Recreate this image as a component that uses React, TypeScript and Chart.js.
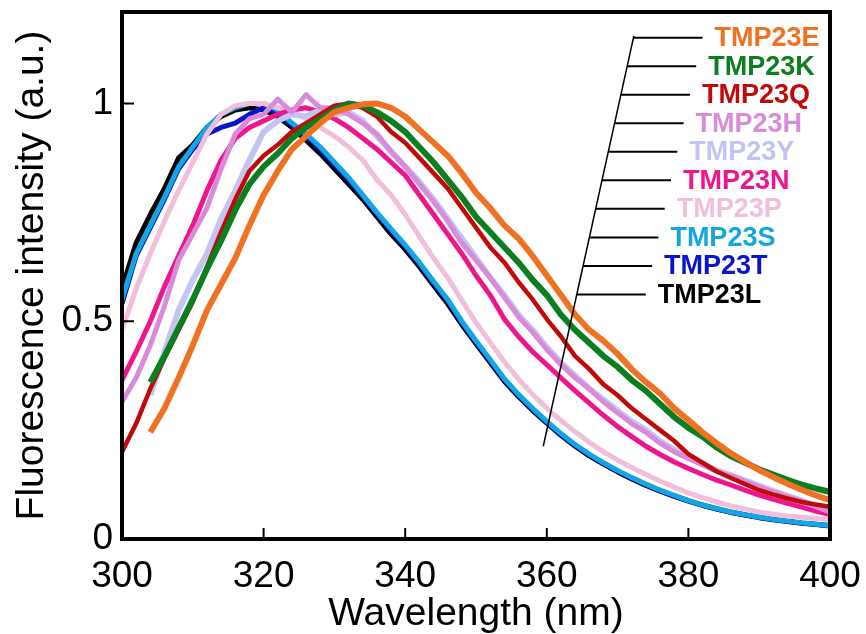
import React, { useEffect, useRef } from 'react';
import { Chart, registerables } from 'chart.js';

Chart.register(...registerables);

// Wavelength grid (nm)
const wavelengths = [
  300, 302, 304, 306, 308, 310, 312, 314, 316, 318,
  320, 322, 324, 326, 328, 330, 332, 334, 336, 338,
  340, 342, 344, 346, 348, 350, 352, 354, 356, 358,
  360, 362, 364, 366, 368, 370, 372, 374, 376, 378,
  380, 382, 384, 386, 388, 390, 392, 394, 396, 398, 400,
];

const tmp23E = [
  null, null, 0.245, 0.30, 0.37, 0.445, 0.525, 0.585, 0.645, 0.72,
  0.79, 0.845, 0.895, 0.925, 0.955, 0.98, 0.99, 0.998, 1.0, 0.99,
  0.97, 0.94, 0.91, 0.88, 0.84, 0.795, 0.76, 0.72, 0.69, 0.65,
  0.605, 0.56, 0.515, 0.48, 0.455, 0.425, 0.39, 0.36, 0.334, 0.30,
  0.273, 0.245, 0.22, 0.197, 0.177, 0.158, 0.142, 0.127, 0.113, 0.10, 0.089,
];
const tmp23K = [
  null, null, 0.36, 0.42, 0.485, 0.55, 0.62, 0.685, 0.755, 0.815,
  0.855, 0.885, 0.92, 0.945, 0.965, 0.985, 1.0, 0.995, 0.98, 0.96,
  0.935, 0.90, 0.865, 0.825, 0.785, 0.74, 0.705, 0.67, 0.635, 0.595,
  0.56, 0.515, 0.48, 0.45, 0.42, 0.395, 0.365, 0.34, 0.31, 0.28,
  0.255, 0.235, 0.21, 0.19, 0.175, 0.16, 0.148, 0.136, 0.125, 0.116, 0.108,
];
const tmp23Q = [
  0.20, 0.265, 0.345, 0.415, 0.48, 0.545, 0.625, 0.705, 0.78, 0.845,
  0.88, 0.905, 0.935, 0.955, 0.975, 0.995, 1.0, 0.99, 0.97, 0.935,
  0.91, 0.875, 0.84, 0.805, 0.76, 0.715, 0.67, 0.635, 0.59, 0.55,
  0.505, 0.465, 0.42, 0.39, 0.355, 0.33, 0.30, 0.275, 0.25, 0.225,
  0.195, 0.175, 0.155, 0.14, 0.126, 0.112, 0.102, 0.093, 0.085, 0.079, 0.074,
];
const tmp23H = [
  0.315, 0.37, 0.445, 0.535, 0.64, 0.70, 0.76, 0.85, 0.93, 0.965,
  0.975, 1.01, 0.98, 1.02, 0.99, 0.99, 0.975, 0.955, 0.93, 0.89,
  0.855, 0.815, 0.775, 0.73, 0.68, 0.64, 0.60, 0.555, 0.51, 0.475,
  0.435, 0.40, 0.37, 0.345, 0.315, 0.29, 0.265, 0.245, 0.22, 0.20,
  0.185, 0.17, 0.155, 0.145, 0.132, 0.12, 0.108, 0.097, 0.087, 0.075, 0.063,
];
const tmp23Y = [
  null, null, 0.33, 0.43, 0.525, 0.595, 0.655, 0.735, 0.80, 0.87,
  0.935, 0.96, 0.975, 0.97, 0.985, 0.975, 0.98, 0.96, 0.925, 0.89,
  0.855, 0.82, 0.78, 0.735, 0.69, 0.645, 0.60, 0.56, 0.515, 0.48,
  0.44, 0.405, 0.375, 0.345, 0.32, 0.295, 0.27, 0.25, 0.225, 0.205,
  0.19, 0.172, 0.158, 0.146, 0.134, 0.122, 0.11, 0.099, 0.088, 0.076, 0.064,
];
const tmp23N = [
  0.365, 0.43, 0.50, 0.58, 0.65, 0.72, 0.80, 0.87, 0.92, 0.945,
  0.96, 0.975, 0.985, 0.99, 0.98, 0.965, 0.945, 0.92, 0.895, 0.865,
  0.835, 0.79, 0.745, 0.70, 0.655, 0.605, 0.56, 0.505, 0.465, 0.43,
  0.40, 0.37, 0.34, 0.312, 0.284, 0.258, 0.235, 0.213, 0.194, 0.177,
  0.162, 0.148, 0.135, 0.124, 0.112, 0.101, 0.091, 0.082, 0.073, 0.064, 0.056,
];
const tmp23P = [
  0.48, 0.575, 0.655, 0.73, 0.80, 0.865, 0.93, 0.975, 0.995, 1.0,
  1.0, 0.99, 0.98, 0.965, 0.945, 0.925, 0.90, 0.87, 0.825, 0.79,
  0.745, 0.695, 0.645, 0.60, 0.548, 0.497, 0.452, 0.407, 0.367, 0.332,
  0.30, 0.272, 0.246, 0.222, 0.20, 0.181, 0.164, 0.148, 0.133, 0.119,
  0.106, 0.095, 0.085, 0.076, 0.069, 0.062, 0.057, 0.053, 0.05, 0.047, 0.045,
];
const tmp23S = [
  0.55, 0.655, 0.72, 0.785, 0.855, 0.90, 0.945, 0.975, 0.99, 1.0,
  1.0, 0.985, 0.955, 0.93, 0.90, 0.865, 0.83, 0.79, 0.75, 0.712,
  0.675, 0.635, 0.592, 0.55, 0.50, 0.455, 0.412, 0.368, 0.332, 0.30,
  0.27, 0.242, 0.217, 0.195, 0.175, 0.157, 0.141, 0.126, 0.112, 0.10,
  0.088, 0.078, 0.07, 0.062, 0.056, 0.05, 0.045, 0.041, 0.037, 0.034, 0.031,
];
const tmp23T = [
  0.54, 0.65, 0.715, 0.78, 0.85, 0.895, 0.93, 0.945, 0.955, 0.975,
  0.99, 0.98, 0.95, 0.925, 0.895, 0.86, 0.825, 0.787, 0.747, 0.708,
  0.672, 0.632, 0.589, 0.547, 0.497, 0.452, 0.409, 0.366, 0.33, 0.298,
  0.268, 0.24, 0.215, 0.193, 0.174, 0.156, 0.14, 0.125, 0.111, 0.099,
  0.088, 0.078, 0.069, 0.062, 0.055, 0.05, 0.045, 0.041, 0.037, 0.034, 0.031,
];
const tmp23L = [
  0.575, 0.68, 0.745, 0.805, 0.875, 0.905, 0.945, 0.97, 0.985, 0.99,
  0.985, 0.97, 0.945, 0.915, 0.885, 0.85, 0.815, 0.78, 0.74, 0.70,
  0.665, 0.625, 0.582, 0.54, 0.492, 0.448, 0.405, 0.362, 0.327, 0.295,
  0.266, 0.238, 0.213, 0.191, 0.172, 0.154, 0.138, 0.123, 0.11, 0.098,
  0.087, 0.077, 0.069, 0.061, 0.055, 0.049, 0.044, 0.04, 0.036, 0.033, 0.03,
];

// Legend order (top to bottom) and names
const seriesNames = ['TMP23E', 'TMP23K', 'TMP23Q', 'TMP23H', 'TMP23Y', 'TMP23N', 'TMP23P', 'TMP23S', 'TMP23T', 'TMP23L'];
const seriesValues = [tmp23E, tmp23K, tmp23Q, tmp23H, tmp23Y, tmp23N, tmp23P, tmp23S, tmp23T, tmp23L];
const seriesColors = ['#F07122', '#0B7F1F', '#C00A0A', '#D98AD9', '#C4C4F2', '#EE168C', '#F2BEDB', '#12A6E2', '#0A14C8', '#000000'];
const seriesWidths = [6, 6, 4.5, 5, 6, 5, 5, 5, 5, 5];

const xTicks = [300, 320, 340, 360, 380, 400];
const yTicks = [0, 0.5, 1];

const FONT = "'Liberation Sans', Arial, Helvetica, sans-serif";

const framePlugin = {
  id: 'frameAndLegend',
  afterDatasetsDraw(chart: any) {
    const { ctx, chartArea, scales } = chart;
    const xs = scales.x;
    const ys = scales.y;
    ctx.save();
    // frame
    ctx.strokeStyle = '#000';
    ctx.lineWidth = 4;
    ctx.strokeRect(chartArea.left, chartArea.top, chartArea.right - chartArea.left, chartArea.bottom - chartArea.top);
    // inward ticks
    ctx.lineWidth = 2;
    ctx.beginPath();
    xTicks.forEach((v) => {
      const p = xs.getPixelForValue(v);
      ctx.moveTo(p, chartArea.bottom);
      ctx.lineTo(p, chartArea.bottom - 11);
    });
    yTicks.forEach((v) => {
      const p = ys.getPixelForValue(v);
      ctx.moveTo(chartArea.left, p);
      ctx.lineTo(chartArea.left + 12, p);
    });
    ctx.stroke();

    // leader-line legend
    const topX = xs.getPixelForValue(372.3);
    const topY = ys.getPixelForValue(1.155);
    const botX = xs.getPixelForValue(359.5);
    const botY = ys.getPixelForValue(0.213);
    ctx.lineWidth = 1.5;
    ctx.beginPath();
    ctx.moveTo(topX, topY);
    ctx.lineTo(botX, botY);
    ctx.stroke();
    ctx.font = `bold 27px ${FONT}`;
    ctx.textBaseline = 'middle';
    ctx.textAlign = 'left';
    seriesNames.forEach((name, i) => {
      const yy = ys.getPixelForValue(1.151 - i * 0.0655);
      const t = (yy - botY) / (topY - botY);
      const sx = botX + t * (topX - botX);
      ctx.strokeStyle = '#000';
      ctx.lineWidth = 2;
      ctx.beginPath();
      ctx.moveTo(sx, yy);
      ctx.lineTo(sx + 69, yy);
      ctx.stroke();
      ctx.fillStyle = seriesColors[i];
      ctx.fillText(name, sx + 81, yy + 1);
    });
    ctx.restore();
  },
};

export default function App() {
  const ref = useRef<HTMLCanvasElement>(null);
  useEffect(() => {
    const canvas = ref.current;
    if (!canvas) return;
    const datasets = seriesNames.map((name, i) => ({
      label: name,
      data: wavelengths.map((w, j) => ({ x: w, y: seriesValues[i][j] })),
      borderColor: seriesColors[i],
      backgroundColor: seriesColors[i],
      borderWidth: seriesWidths[i],
      pointRadius: 0,
      tension: 0,
      borderJoinStyle: 'round' as const,
      spanGaps: false,
    }));
    const chart = new Chart(canvas, {
      type: 'line',
      data: { datasets },
      options: {
        animation: false,
        responsive: false,
        devicePixelRatio: 1,
        layout: { padding: { top: 12, right: 36, left: 0, bottom: 0 } },
        plugins: { legend: { display: false }, tooltip: { enabled: false } },
        scales: {
          x: {
            type: 'linear',
            min: 300,
            max: 400,
            afterBuildTicks: (s: any) => { s.ticks = xTicks.map((v) => ({ value: v })); },
            afterFit: (s: any) => { s.height = 95; s.paddingLeft = 0; s.paddingRight = 0; },
            grid: { display: false, drawTicks: false },
            border: { display: false },
            ticks: {
              color: '#000',
              font: { family: FONT, size: 37 },
              padding: 16,
              maxRotation: 0,
              autoSkip: false,
              callback: (v: any) => String(v),
            },
            title: {
              display: true,
              text: 'Wavelength (nm)',
              color: '#000',
              font: { family: FONT, size: 39, lineHeight: 1.0 },
              padding: { top: 0, bottom: 0 },
            },
          },
          y: {
            type: 'linear',
            min: 0,
            max: 1.21,
            afterBuildTicks: (s: any) => { s.ticks = yTicks.map((v) => ({ value: v })); },
            afterFit: (s: any) => { s.width = 122; s.paddingTop = 0; s.paddingBottom = 0; },
            grid: { display: false, drawTicks: false },
            border: { display: false },
            ticks: {
              color: '#000',
              font: { family: FONT, size: 37 },
              padding: 9,
              autoSkip: false,
              callback: (v: any) => String(v),
            },
            title: {
              display: true,
              text: 'Fluorescence intensity (a.u.)',
              color: '#000',
              font: { family: FONT, size: 39 },
              padding: { top: 9, bottom: 0 },
            },
          },
        },
      },
      plugins: [framePlugin],
    });
    return () => chart.destroy();
  }, []);
  return (
    <div style={{ position: 'fixed', left: 0, top: 0, width: 866, height: 634, background: '#fff' }}>
      <canvas ref={ref} width={866} height={634} style={{ display: 'block' }} />
    </div>
  );
}
